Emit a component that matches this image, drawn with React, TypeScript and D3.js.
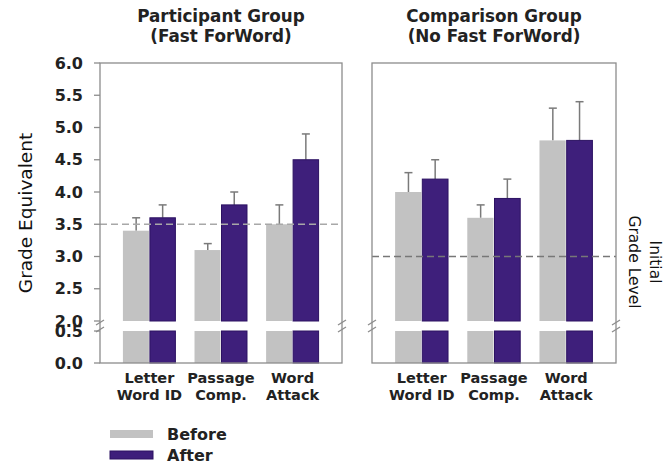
import React from "react";
import * as d3 from "d3";

const categoryLines: string[][] = [["Letter", "Word ID"], ["Passage", "Comp."], ["Word", "Attack"]];
const seriesNames = ["Before", "After"];

const participantBefore = [3.4, 3.1, 3.5];
const participantBeforeTop = [3.6, 3.2, 3.8];
const participantAfter = [3.6, 3.8, 4.5];
const participantAfterTop = [3.8, 4.0, 4.9];

const comparisonBefore = [4.0, 3.6, 4.8];
const comparisonBeforeTop = [4.3, 3.8, 5.3];
const comparisonAfter = [4.2, 3.9, 4.8];
const comparisonAfterTop = [4.5, 4.2, 5.4];

const upperTicks = [2.0, 2.5, 3.0, 3.5, 4.0, 4.5, 5.0, 5.5, 6.0];
const lowerTicks = [0.0, 0.5];
const participantTitle = ["Participant Group", "(Fast ForWord)"];
const comparisonTitle = ["Comparison Group", "(No Fast ForWord)"];
const participantLevel = 3.5;
const comparisonLevel = 3.0;

const W = 664;
const H = 464;
const GRAY = "#c2c2c2";
const PURPLE = "#3e1f7b";
const PURPLE_EDGE = "#2c1262";
const FRAME = "#8c8c8c";
const FONT = "DejaVu Sans, Verdana, sans-serif";

const yUpper = d3.scaleLinear().domain([2, 6]).range([321, 63]);
const yLower = d3.scaleLinear().domain([0, 0.5]).range([363, 331]);
const BREAK_Y = 326;

type PanelProps = {
  x0: number;
  x1: number;
  before: number[];
  beforeTop: number[];
  after: number[];
  afterTop: number[];
  title: string[];
  level: number;
  levelColor: string;
  showTicks: boolean;
};

function BreakMark({ x }: { x: number }) {
  return (
    <g stroke={FRAME} strokeWidth={1.3}>
      <line x1={x - 4} y1={BREAK_Y - 1} x2={x + 4} y2={BREAK_Y - 6} />
      <line x1={x - 4} y1={BREAK_Y + 6} x2={x + 4} y2={BREAK_Y + 1} />
    </g>
  );
}

function Panel(p: PanelProps) {
  const xBand = d3
    .scaleBand<number>()
    .domain(d3.range(categoryLines.length))
    .range([p.x0, p.x1])
    .paddingInner(0.26)
    .paddingOuter(0.32);
  const xSub = d3.scaleBand<number>().domain([0, 1]).range([0, xBand.bandwidth()]).padding(0);
  const vals = [p.before, p.after];
  const tops = [p.beforeTop, p.afterTop];
  const cx = (p.x0 + p.x1) / 2;

  return (
    <g>
      {p.title.map((t, i) => (
        <text key={t} x={cx} y={22 + i * 19.5} textAnchor="middle" fontFamily={FONT} fontWeight="bold" fontSize={16.8} fill="#222">
          {t}
        </text>
      ))}
      {categoryLines.map((_, ci) =>
        [0, 1].map((si) => {
          const bx = (xBand(ci) as number) + (xSub(si) as number);
          const bw = xSub.bandwidth();
          const v = vals[si][ci];
          const fill = si === 0 ? GRAY : PURPLE;
          const stroke = si === 0 ? "none" : PURPLE_EDGE;
          const ex = bx + bw / 2;
          return (
            <g key={`${ci}-${si}`}>
              <line x1={ex} x2={ex} y1={yUpper(v)} y2={yUpper(tops[si][ci])} stroke="#7a7a7a" strokeWidth={1.5} />
              <line x1={ex - 4} x2={ex + 4} y1={yUpper(tops[si][ci])} y2={yUpper(tops[si][ci])} stroke="#7a7a7a" strokeWidth={1.5} />
              <rect x={bx + (si === 1 ? 0.5 : 0)} y={yUpper(v)} width={bw - (si === 1 ? 1 : 0.5)} height={yUpper(2) - yUpper(v)} fill={fill} stroke={stroke} strokeWidth={1} />
              <rect x={bx + (si === 1 ? 0.5 : 0)} y={yLower(0.5)} width={bw - (si === 1 ? 1 : 0.5)} height={yLower(0) - yLower(0.5)} fill={fill} stroke={stroke} strokeWidth={1} />
            </g>
          );
        })
      )}
      <line x1={p.x0} x2={p.x1} y1={yUpper(p.level)} y2={yUpper(p.level)} stroke={p.levelColor} strokeWidth={1.6} strokeDasharray="7,4" />
      <rect x={p.x0} y={yUpper(6)} width={p.x1 - p.x0} height={yLower(0) - yUpper(6)} fill="none" stroke={FRAME} strokeWidth={1.3} />
      <BreakMark x={p.x0} />
      <BreakMark x={p.x1} />
      {p.showTicks && (
        <g>
          {upperTicks.map((t) => (
            <g key={`u${t}`}>
              <line x1={p.x0 - 6} x2={p.x0} y1={yUpper(t)} y2={yUpper(t)} stroke={FRAME} strokeWidth={1.3} />
              <text x={83} y={yUpper(t) + 5.5} textAnchor="end" fontFamily={FONT} fontWeight="bold" fontSize={16} fill="#222">
                {d3.format(".1f")(t)}
              </text>
            </g>
          ))}
          {lowerTicks.map((t) => (
            <g key={`l${t}`}>
              <line x1={p.x0 - 6} x2={p.x0} y1={yLower(t)} y2={yLower(t)} stroke={FRAME} strokeWidth={1.3} />
              <text x={83} y={yLower(t) + 5.5} textAnchor="end" fontFamily={FONT} fontWeight="bold" fontSize={16} fill="#222">
                {d3.format(".1f")(t)}
              </text>
            </g>
          ))}
        </g>
      )}
      {categoryLines.map((lines, ci) => (
        <text key={ci} x={(xBand(ci) as number) + xBand.bandwidth() / 2} y={383} textAnchor="middle" fontFamily={FONT} fontWeight="bold" fontSize={14.5} fill="#222">
          {lines.map((l, li) => (
            <tspan key={li} x={(xBand(ci) as number) + xBand.bandwidth() / 2} dy={li === 0 ? 0 : 17}>
              {l}
            </tspan>
          ))}
        </text>
      ))}
    </g>
  );
}

export default function App() {
  return (
    <svg width={W} height={H} style={{ position: "absolute", left: 0, top: 0, background: "#fff" }}>
      <rect x={0} y={0} width={W} height={H} fill="#fff" />
      <Panel
        x0={100}
        x1={342}
        before={participantBefore}
        beforeTop={participantBeforeTop}
        after={participantAfter}
        afterTop={participantAfterTop}
        title={participantTitle}
        level={participantLevel}
        levelColor="#a8a8a8"
        showTicks={true}
      />
      <Panel
        x0={372}
        x1={616}
        before={comparisonBefore}
        beforeTop={comparisonBeforeTop}
        after={comparisonAfter}
        afterTop={comparisonAfterTop}
        title={comparisonTitle}
        level={comparisonLevel}
        levelColor="#777"
        showTicks={false}
      />
      <text transform="translate(32,213) rotate(-90)" textAnchor="middle" fontFamily={FONT} fontSize={18.5} fill="#111">
        Grade Equivalent
      </text>
      <text transform="translate(650,262) rotate(90)" textAnchor="middle" fontFamily={FONT} fontSize={15.5} fill="#111">
        Initial
      </text>
      <text transform="translate(629,262) rotate(90)" textAnchor="middle" fontFamily={FONT} fontSize={15.5} fill="#111">
        Grade Level
      </text>
      {seriesNames.map((s, i) => (
        <g key={s}>
          <rect x={110} y={430 + i * 21} width={43} height={8} fill={i === 0 ? GRAY : PURPLE} stroke={i === 0 ? "none" : PURPLE_EDGE} strokeWidth={1} />
          <text x={167} y={440 + i * 21} fontFamily={FONT} fontWeight="bold" fontSize={16} fill="#222">
            {s}
          </text>
        </g>
      ))}
    </svg>
  );
}
